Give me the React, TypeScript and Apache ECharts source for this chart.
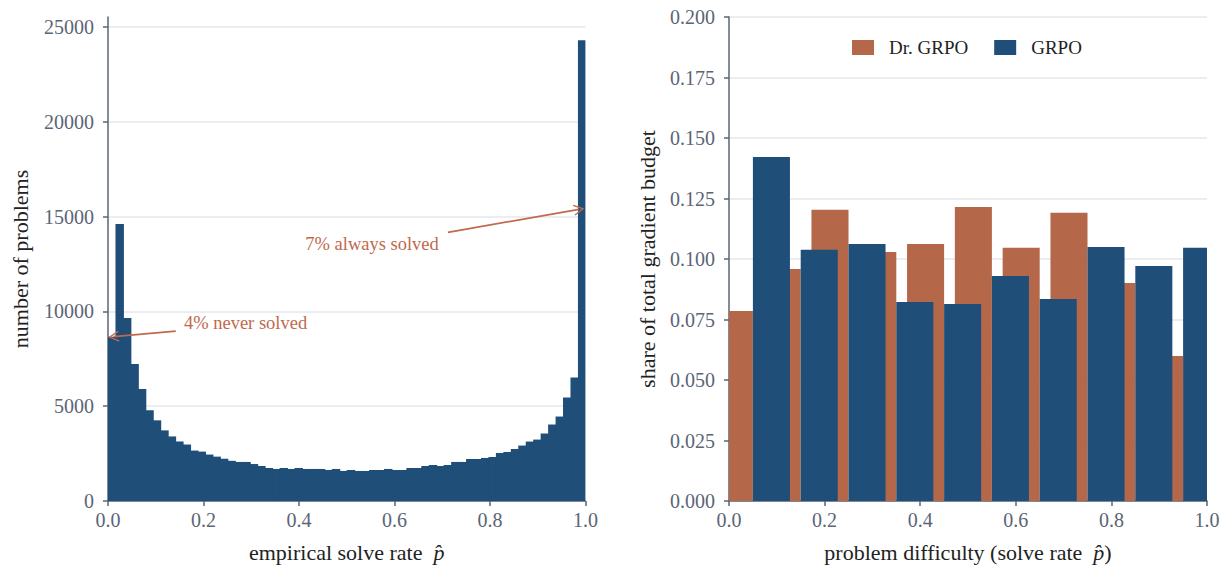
import React, { useEffect, useRef } from 'react';
import * as echarts from 'echarts';

// ---- Left panel: histogram of empirical solve rate (64 equal bins on [0, 1]) ----
const solveRateCounts = [
  8670, 14610, 9650, 7225, 5905, 4790, 4255, 3725, 3405, 3140,
  2980, 2660, 2605, 2450, 2340, 2230, 2120, 2060, 2060, 1950,
  1845, 1740, 1690, 1740, 1690, 1740, 1690, 1690, 1690, 1635,
  1690, 1585, 1635, 1585, 1585, 1635, 1635, 1690, 1635, 1635,
  1740, 1740, 1845, 1900, 1845, 1900, 2060, 2060, 2215, 2215,
  2270, 2320, 2530, 2585, 2740, 2925, 3135, 3240, 3560, 4035,
  4455, 5455, 6515, 24310,
];
const leftXTicks = [0, 0.2, 0.4, 0.6, 0.8, 1.0];
const leftYTicks = [0, 5000, 10000, 15000, 20000, 25000];

// ---- Right panel: share of gradient budget per difficulty bin ----
const difficultyBinCenters = [0.05, 0.15, 0.25, 0.35, 0.45, 0.55, 0.65, 0.75, 0.85, 0.95];
const drGrpoShare = [0.0785, 0.0959, 0.1203, 0.1029, 0.1062, 0.1215, 0.1046, 0.1191, 0.0901, 0.0599];
const grpoShare = [0.1422, 0.1038, 0.1062, 0.0822, 0.0814, 0.0930, 0.0835, 0.1050, 0.0971, 0.1046];
const rightXTicks = [0, 0.2, 0.4, 0.6, 0.8, 1.0];
const rightYTicks = [0, 0.025, 0.05, 0.075, 0.1, 0.125, 0.15, 0.175, 0.2];

// ---- Annotations (data coordinates of the left panel) ----
const neverSolvedLabel = '4% never solved';
const alwaysSolvedLabel = '7% always solved';

const FONT = 'Liberation Serif';
const BLUE = '#1f4e79';
const ORANGE = '#b5674a';
const ANNOT = '#c0694d';
const AXIS = '#5b6575';
const GRID = '#e4e7ec';
const BINS = solveRateCounts.length;
const BAR_W = 0.0775;

const ARROW = 'path://M5,0 L10,9.2 L9,10 L5,2.6 L1,10 L0,9.2 Z';

function rectRenderer(color: string, overlapPx: number) {
  return (params: any, api: any) => {
    const x0 = api.value(0);
    const x1 = api.value(1);
    const v = api.value(2);
    const pTop = api.coord([x0, v]);
    const pBot = api.coord([x1, 0]);
    const cs = params.coordSys;
    const left = Math.max(pTop[0], cs.x);
    const right = Math.min(pBot[0] + overlapPx, cs.x + cs.width);
    return {
      type: 'rect',
      shape: { x: left, y: pTop[1], width: Math.max(0, right - left), height: pBot[1] - pTop[1] },
      style: { fill: color },
    };
  };
}

function valueAxisCommon() {
  return {
    axisLine: { show: true, lineStyle: { color: AXIS, width: 1.5 } },
    axisTick: { show: true, length: 5, lineStyle: { color: AXIS, width: 1.5 } },
    axisLabel: { color: AXIS, fontFamily: FONT, fontSize: 20 },
    nameTextStyle: { color: '#222', fontFamily: FONT, fontSize: 22 },
    nameLocation: 'middle' as const,
  };
}

const richName = {
  a: { fontFamily: FONT, fontSize: 22, color: '#222' },
  i: { fontFamily: FONT, fontSize: 22, color: '#222', fontStyle: 'italic' },
};

export default function App() {
  const ref = useRef<HTMLDivElement>(null);

  useEffect(() => {
    if (!ref.current) return;
    const chart = echarts.init(ref.current, undefined, { renderer: 'svg' });

    const histData = solveRateCounts.map((c, k) => [k / BINS, (k + 1) / BINS, c]);
    const drData = difficultyBinCenters.map((c, i) => [c - BAR_W, c, drGrpoShare[i]]);
    const grData = difficultyBinCenters.map((c, i) => [c, c + BAR_W, grpoShare[i]]);

    const c = valueAxisCommon();

    const option: any = {
      animation: false,
      backgroundColor: '#ffffff',
      textStyle: { fontFamily: FONT },
      grid: [
        { left: 108, top: 17, width: 477.4, height: 484, outerBoundsMode: 'none' },
        { left: 729, top: 17, width: 478, height: 484, outerBoundsMode: 'none' },
      ],
      legend: {
        show: true,
        left: 847,
        top: 33,
        itemWidth: 22,
        itemHeight: 15,
        itemGap: 26,
        icon: 'rect',
        data: ['Dr. GRPO', 'GRPO'],
        textStyle: { color: '#222', fontFamily: FONT, fontSize: 19, padding: [0, 0, 0, 10] },
      },
      xAxis: [
        {
          ...c,
          type: 'value',
          gridIndex: 0,
          min: 0,
          max: 1,
          interval: 0.2,
          splitLine: { show: false },
          axisTick: { ...c.axisTick, customValues: leftXTicks },
          axisLabel: { ...c.axisLabel, margin: 9, customValues: leftXTicks, formatter: (v: number) => v.toFixed(1) },
          name: '{a|empirical solve rate  }{i|p\u0302}',
          nameGap: 40,
          nameTextStyle: { ...c.nameTextStyle, rich: richName },
        },
        {
          ...c,
          type: 'value',
          gridIndex: 1,
          min: 0,
          max: 1,
          interval: 0.2,
          splitLine: { show: false },
          axisTick: { ...c.axisTick, customValues: rightXTicks },
          axisLabel: { ...c.axisLabel, margin: 9, customValues: rightXTicks, formatter: (v: number) => v.toFixed(1) },
          name: '{a|problem difficulty (solve rate  }{i|p\u0302}{a|)}',
          nameGap: 40,
          nameTextStyle: { ...c.nameTextStyle, rich: richName },
        },
      ],
      yAxis: [
        {
          ...c,
          type: 'value',
          gridIndex: 0,
          min: 0,
          max: 25530,
          interval: 5000,
          splitLine: { show: true, lineStyle: { color: GRID, width: 1.5 } },
          axisTick: { ...c.axisTick, customValues: leftYTicks },
          axisLabel: { ...c.axisLabel, margin: 14, customValues: leftYTicks, formatter: (v: number) => String(Math.round(v)) },
          name: 'number of problems',
          nameGap: 77,
        },
        {
          ...c,
          type: 'value',
          gridIndex: 1,
          min: 0,
          max: 0.2,
          interval: 0.025,
          splitLine: { show: true, lineStyle: { color: GRID, width: 1.5 } },
          axisTick: { ...c.axisTick, customValues: rightYTicks },
          axisLabel: { ...c.axisLabel, margin: 14, customValues: rightYTicks, formatter: (v: number) => v.toFixed(3) },
          name: 'share of total gradient budget',
          nameGap: 71,
        },
      ],
      series: [
        {
          type: 'custom',
          name: 'solve rate histogram',
          xAxisIndex: 0,
          yAxisIndex: 0,
          data: histData,
          encode: { x: [0, 1], y: 2 },
          renderItem: rectRenderer(BLUE, 1),
          itemStyle: { color: BLUE },
          silent: true,
          markLine: {
            silent: true,
            symbol: ['none', ARROW],
            symbolSize: [11, 11],
            label: { show: false },
            lineStyle: { color: ANNOT, width: 1.8, type: 'solid' },
            data: [
              [{ coord: [0.142, 8966] }, { coord: [0.012, 8665] }],
              [{ coord: [0.712, 14171] }, { coord: [0.9866, 15384] }],
            ],
          },
          markPoint: {
            silent: true,
            symbol: 'circle',
            symbolSize: 0,
            data: [
              {
                coord: [0.159, 9388],
                label: {
                  show: true, position: 'right', distance: 0, formatter: neverSolvedLabel,
                  color: ANNOT, fontFamily: FONT, fontSize: 18.5,
                },
              },
              {
                coord: [0.693, 13554],
                label: {
                  show: true, position: 'left', distance: 0, formatter: alwaysSolvedLabel,
                  color: ANNOT, fontFamily: FONT, fontSize: 18.5,
                },
              },
            ],
          },
        },
        {
          type: 'custom',
          name: 'Dr. GRPO',
          xAxisIndex: 1,
          yAxisIndex: 1,
          data: drData,
          encode: { x: [0, 1], y: 2 },
          renderItem: rectRenderer(ORANGE, 0),
          itemStyle: { color: ORANGE },
          silent: true,
        },
        {
          type: 'custom',
          name: 'GRPO',
          xAxisIndex: 1,
          yAxisIndex: 1,
          data: grData,
          encode: { x: [0, 1], y: 2 },
          renderItem: rectRenderer(BLUE, 0),
          itemStyle: { color: BLUE },
          silent: true,
        },
      ],
    };

    chart.setOption(option);
    return () => chart.dispose();
  }, []);

  return (
    <div
      ref={ref}
      style={{ position: 'fixed', left: 0, top: 0, width: 1220, height: 567, background: '#fff' }}
    />
  );
}
